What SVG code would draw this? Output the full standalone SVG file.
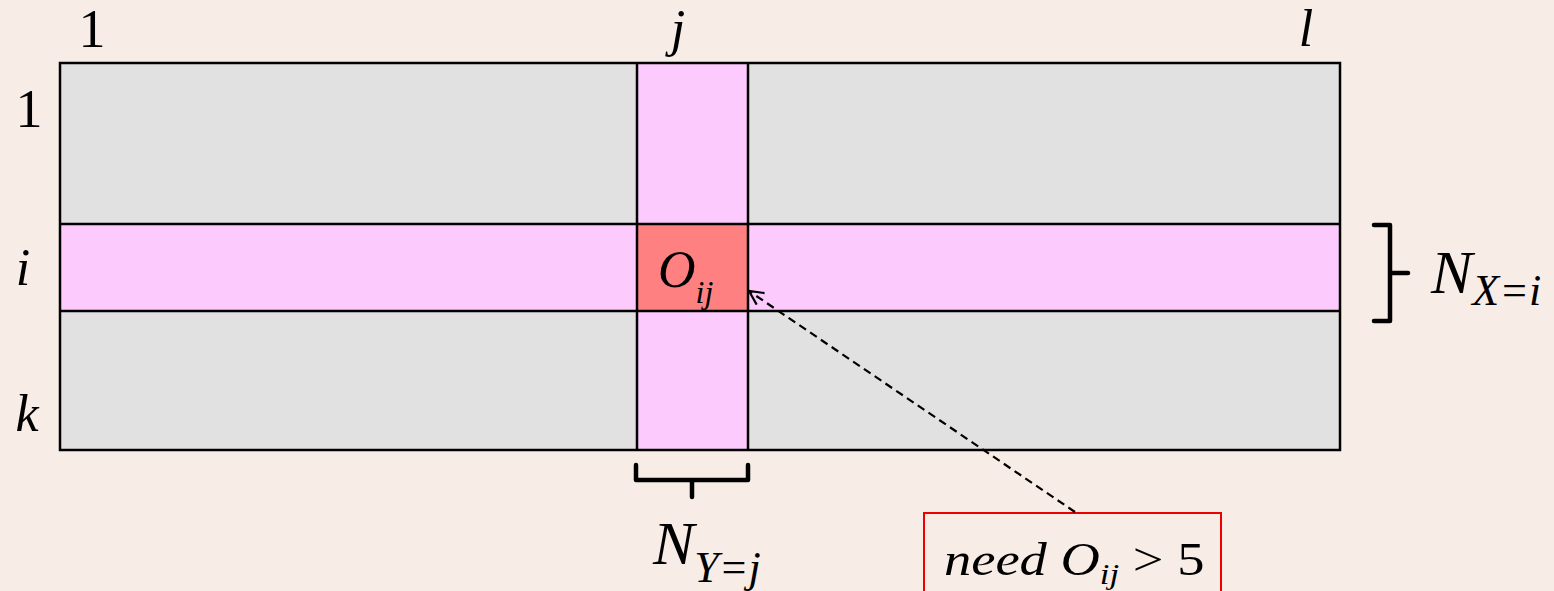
<svg xmlns="http://www.w3.org/2000/svg" width="1554" height="591" viewBox="0 0 1554 591">
<style>
.t{font-family:"Liberation Serif","Times New Roman",serif;fill:#000}
.i{font-style:italic}
.cell{stroke:#000;stroke-width:2.5}
.br{fill:none;stroke:#000;stroke-width:4.5;stroke-linejoin:round;stroke-linecap:round}
</style>
<defs>
<marker id="ah" markerWidth="18" markerHeight="18" refX="15" refY="8" orient="auto" markerUnits="userSpaceOnUse">
<path d="M1,1 L15,8 L1,15" fill="none" stroke="#000" stroke-width="2.2"/>
</marker>
</defs>
<rect width="1554" height="591" fill="#f7ece6"/>
<g id="grid">
<rect x="60" y="63" width="1280" height="387" fill="#e1e1e1"/>
<rect x="637" y="63" width="111" height="387" fill="#fdcafd"/>
<rect x="60" y="224" width="1280" height="87" fill="#fdcafd"/>
<rect x="637" y="224" width="111" height="87" fill="#ff8080"/>
<rect x="60" y="63" width="1280" height="387" fill="none" class="cell"/>
<line x1="637" y1="63" x2="637" y2="450" class="cell"/>
<line x1="748" y1="63" x2="748" y2="450" class="cell"/>
<line x1="60" y1="224" x2="1340" y2="224" class="cell"/>
<line x1="60" y1="311" x2="1340" y2="311" class="cell"/>
</g>
<g id="labels">
<text class="t" x="92" y="47" font-size="54" text-anchor="middle">1</text>
<text class="t i" x="678" y="46" font-size="52" text-anchor="middle">j</text>
<text class="t i" x="1306" y="46" font-size="52" text-anchor="middle">l</text>
<text class="t" x="29" y="127" font-size="54" text-anchor="middle">1</text>
<text class="t i" x="23" y="285" font-size="52" text-anchor="middle">i</text>
<text class="t i" x="27" y="431" font-size="52" text-anchor="middle">k</text>
</g>
<g id="oij">
<text class="t i" x="658" y="287" font-size="52">O<tspan font-size="32" dy="16">ij</tspan></text>
</g>
<g id="nx">
<path class="br" d="M1374,225 L1390,225 L1390,321 L1374,321 M1390,273 L1408,273"/>
<text class="t i" x="1431" y="293" font-size="62">N<tspan font-size="44" dy="12">X=i</tspan></text>
</g>
<g id="ny">
<path class="br" d="M636,465 L636,480 L748,480 L748,465 M692,480 L692,497"/>
<text class="t i" x="653" y="564" font-size="62">N<tspan font-size="44" dy="18">Y=j</tspan></text>
</g>
<g id="note">
<rect x="924" y="513" width="297" height="90" fill="none" stroke="#e00" stroke-width="2"/>
<text class="t i" transform="translate(944,575) scale(1.16,1)" font-size="47">need O<tspan font-size="30" dy="9">ij</tspan><tspan dy="-9" font-style="normal"> &gt; 5</tspan></text>
</g>
<g id="connectors">
<line x1="1075" y1="512" x2="749" y2="291" stroke="#000" stroke-width="2.2" stroke-dasharray="8,5" marker-end="url(#ah)"/>
</g>
</svg>
